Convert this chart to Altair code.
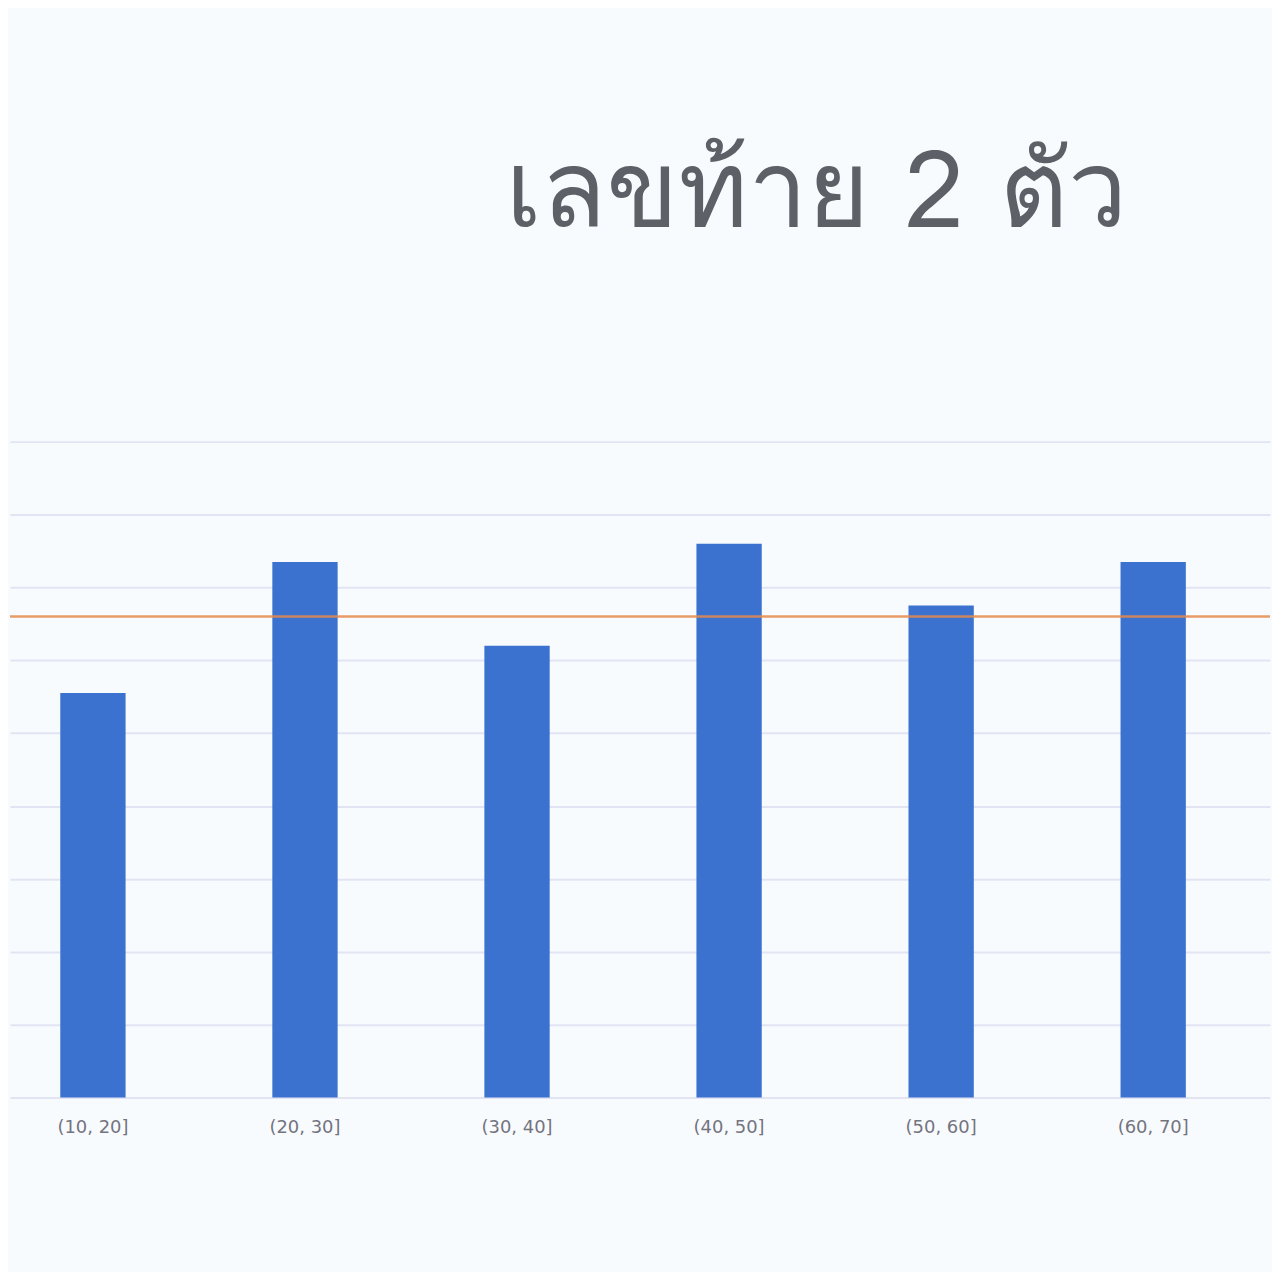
import altair as alt
import pandas as pd

categories = ["(10, 20]", "(20, 30]", "(30, 40]", "(40, 50]", "(50, 60]", "(60, 70]"]
counts = [11.1, 14.7, 12.4, 15.2, 13.5, 14.7]
mean_value = [13.2]
title_text = "เลขท้าย 2 ตัว"

df = pd.DataFrame({"range": categories, "count": counts})
mean_df = pd.DataFrame({"mean": mean_value})

xscale = alt.Scale(paddingInner=0.692, paddingOuter=0.317, align=0.374)
yscale = alt.Scale(domain=[0, 18])

bars = alt.Chart(df).mark_bar(color="#3b72d0").encode(
    x=alt.X("range:N", sort=categories, scale=xscale,
            axis=alt.Axis(title=None, labelAngle=0, ticks=False, tickSize=0, domain=False,
                          labelPadding=21, labelFont="DejaVu Sans", labelFontSize=18,
                          labelColor="#74747e", grid=False)),
    y=alt.Y("count:Q", scale=yscale,
            axis=alt.Axis(title=None, labels=False, ticks=False, domain=False,
                          values=[0, 2, 4, 6, 8, 10, 12, 14, 16, 18],
                          grid=True, gridColor="#e2e4f4", gridWidth=2)),
)

rule = alt.Chart(mean_df).mark_rule(color="#e5894c", strokeWidth=2.5, opacity=0.85).encode(
    y=alt.Y("mean:Q", scale=yscale)
)

chart = alt.layer(bars, rule).properties(
    width=1264,
    height=658,
    background="#f8fbfe",
    padding={"left": 0, "right": 0, "top": 132, "bottom": 134},
    title=alt.TitleParams(title_text, fontSize=106,
                          font="Loma, Garuda, Noto Sans Thai Looped, Noto Sans Thai UI, Noto Sans Thai",
                          fontWeight=100,
                          color="#5d6066", anchor="middle", dx=177, offset=194),
).configure_view(stroke=None)

chart.save("out.html", embed_options={"renderer": "svg", "actions": False})
